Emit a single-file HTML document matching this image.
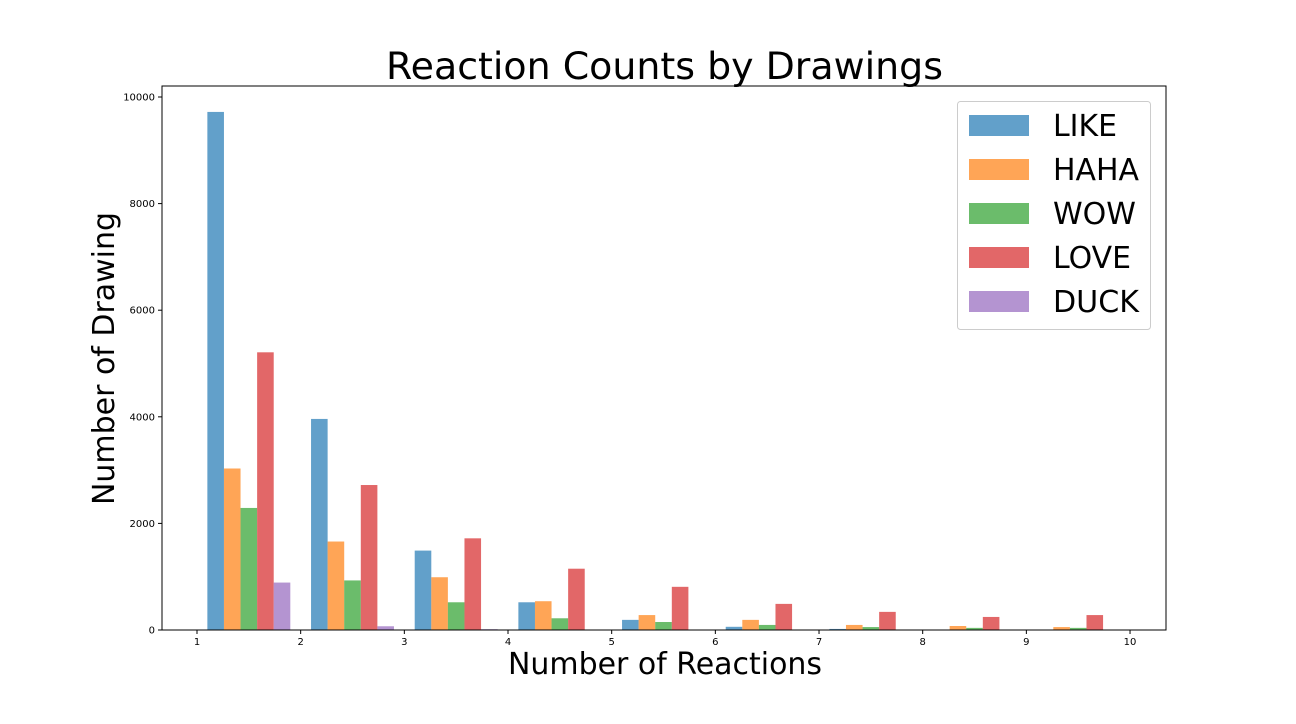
<!DOCTYPE html>
<html><head><meta charset="utf-8"><style>
body{margin:0;background:#fff;font-family:"DejaVu Sans","Liberation Sans",sans-serif}
</style></head><body>
<svg id="c" width="1296" height="720" xmlns="http://www.w3.org/2000/svg" font-family="DejaVu Sans, Liberation Sans, sans-serif"></svg>
<script>
const categories=[1,2,3,4,5,6,7,8,9];
const like=[9720,3960,1490,520,190,60,20,5,5];
const haha=[3030,1660,990,540,280,190,95,75,55];
const wow=[2290,930,520,220,150,95,55,40,40];
const love=[5210,2720,1720,1150,810,490,340,245,280];
const duck=[890,70,15,0,0,0,0,0,0];
const seriesNames=["LIKE","HAHA","WOW","LOVE","DUCK"];
const xTicks=[1,2,3,4,5,6,7,8,9,10];
const yTicks=[0,2000,4000,6000,8000,10000];
const colors=["#1f77b4","#ff7f0e","#2ca02c","#d62728","#9467bd"];
const series=[like,haha,wow,love,duck];
const legendW=[64,86,83,78,86];
const NS="http://www.w3.org/2000/svg";
const svg=document.getElementById('c');
const L=162,R=1166,T=86,B=630;
const xs=v=>197+(v-1)*103.67;
const ys=v=>630-v*0.0533;
function mk(t,a,txt){const e=document.createElementNS(NS,t);for(const k in a)e.setAttribute(k,a[k]);if(txt!==undefined)e.textContent=txt;svg.appendChild(e);return e;}
let e;
e=mk('text',{x:386,y:79,'font-size':37,textLength:557,lengthAdjust:'spacingAndGlyphs',fill:'#000'},'Reaction Counts by Drawings');


series.forEach((s,si)=>{s.forEach((v,i)=>{
 const x0=xs(categories[i]+0.1+si*0.16);const w=0.16*103.67;
 const r=mk('rect',{x:x0,y:ys(v),width:w,height:B-ys(v),fill:colors[si],'fill-opacity':0.7});
 
 
});});
e=mk('rect',{x:L,y:T,width:R-L,height:B-T,fill:'none',stroke:'#000','stroke-width':1});


xTicks.forEach(t=>{
 mk('line',{x1:xs(t),x2:xs(t),y1:B,y2:B+4,stroke:'#000'});
 e=mk('text',{x:xs(t),y:B+15,'font-size':10,'text-anchor':'middle'},t);
 
 
});
yTicks.forEach(t=>{
 mk('line',{x1:L-4,x2:L,y1:ys(t),y2:ys(t),stroke:'#000'});
 e=mk('text',{x:L-7,y:ys(t)+3.5,'font-size':10,'text-anchor':'end'},t);
 
 
});
e=mk('text',{x:508,y:674,'font-size':30,textLength:314,lengthAdjust:'spacingAndGlyphs'},'Number of Reactions');


e=mk('text',{x:0,y:0,'font-size':30,textLength:293,lengthAdjust:'spacingAndGlyphs',transform:'translate(114,505) rotate(-90)'},'Number of Drawing');


e=mk('rect',{x:957.5,y:101.5,width:193,height:228,rx:3,fill:'#fff','fill-opacity':0.8,stroke:'#ccc'});


seriesNames.forEach((n,i)=>{
 const y=125+i*44;
 const r=mk('rect',{x:969,y:y-10,width:60,height:21,fill:colors[i],'fill-opacity':0.7});
 
 
 const t=mk('text',{x:1053,y:y+11,'font-size':30,textLength:legendW[i],lengthAdjust:'spacingAndGlyphs'},n);
 
 
});
</script>
</body></html>
